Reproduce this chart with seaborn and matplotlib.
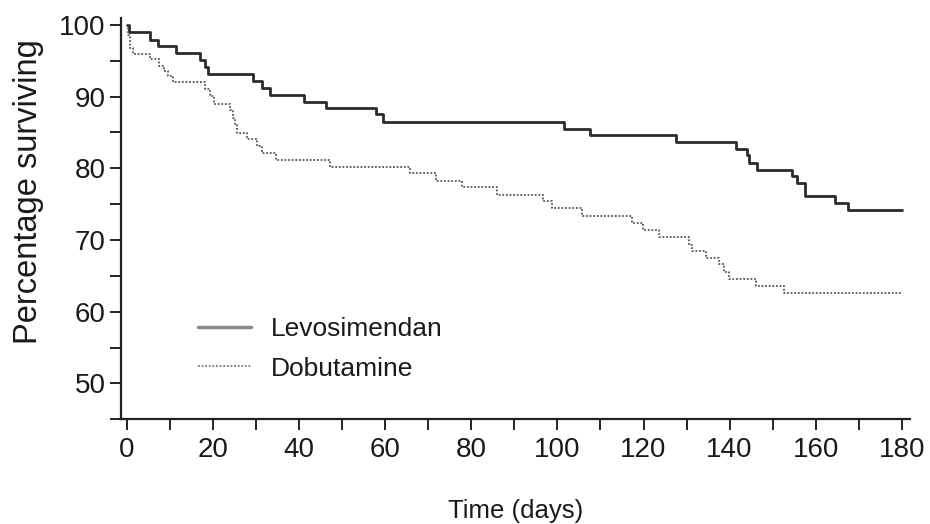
import numpy as np
import pandas as pd
import matplotlib
matplotlib.use("Agg")
import matplotlib.pyplot as plt
import seaborn as sns
from matplotlib.ticker import MultipleLocator

# Kaplan-Meier style step data (value holds from each time until the next one)
levo_time = [0, 0.5, 5.3, 7.3, 11.4, 16.9, 18.1, 18.9, 29.2, 31.4, 33.2,
             41.2, 46.2, 57.9, 59.6, 101.6, 107.6, 127.6, 141.6, 144.0, 144.5,
             146.4, 154.6, 155.6, 157.5, 164.6, 167.6, 180]
levo_surv = [100, 99.0, 97.9, 97.0, 96.1, 95.1, 94.1, 93.2, 92.2, 91.2, 90.3,
             89.3, 88.4, 87.6, 86.5, 85.5, 84.6, 83.7, 82.7, 81.8, 80.8,
             79.8, 78.9, 78.0, 76.1, 75.2, 74.2, 74.2]

dobu_time = [0, 0.3, 0.7, 1.4, 5.3, 7.5, 8.6, 9.6, 10.8, 18.1, 19.3, 20.2,
             23.9, 24.7, 25.1, 25.6, 27.8, 30.1, 31.3, 34.7, 47.1, 65.8, 71.8,
             77.9, 85.9, 96.7, 98.7, 105.7, 117.4, 119.8, 123.6, 130.6, 131.2,
             134.5, 137.6, 138.7, 139.9, 146.1, 152.6, 180]
dobu_surv = [100, 98.6, 96.8, 95.9, 95.2, 94.3, 93.6, 92.9, 92.1, 91.1, 90.1,
             89.0, 88.1, 87.0, 86.0, 84.9, 84.1, 83.1, 82.1, 81.1, 80.2, 79.3,
             78.2, 77.4, 76.3, 75.4, 74.5, 73.3, 72.4, 71.4, 70.4, 69.3, 68.4,
             67.5, 66.6, 65.6, 64.5, 63.6, 62.6, 62.6]

x_ticks = [0, 20, 40, 60, 80, 100, 120, 140, 160, 180]
y_ticks = [50, 60, 70, 80, 90, 100]

sns.set_theme(style="ticks")
plt.rcParams["font.family"] = ["Liberation Sans", "DejaVu Sans"]

fig = plt.figure(figsize=(9.3, 5.24), dpi=100)
ax = fig.add_axes([0.130, 0.200, 0.848, 0.766])

levo = pd.DataFrame({"t": levo_time, "s": levo_surv})
dobu = pd.DataFrame({"t": dobu_time, "s": dobu_surv})

sns.lineplot(data=levo, x="t", y="s", ax=ax, estimator=None, sort=False,
             drawstyle="steps-post", color="#2b2b2b", linewidth=2.0,
             label="Levosimendan")
sns.lineplot(data=dobu, x="t", y="s", ax=ax, estimator=None, sort=False,
             drawstyle="steps-post", color="#555555", linewidth=1.3,
             linestyle=(0, (1, 1)), label="Dobutamine")

ax.set_xlim(-1.4, 181.8)
ax.set_ylim(45, 101)
ax.set_xticks(x_ticks)
ax.set_yticks(y_ticks)
ax.xaxis.set_minor_locator(MultipleLocator(10))
ax.yaxis.set_minor_locator(MultipleLocator(5))
ax.tick_params(which="both", direction="out", length=8, width=1.4,
               color="#222222", labelsize=20, labelcolor="#1a1a1a", pad=3)
ax.tick_params(axis="x", pad=5)

for side in ["top", "right"]:
    ax.spines[side].set_visible(False)
for side in ["left", "bottom"]:
    ax.spines[side].set_linewidth(1.6)
    ax.spines[side].set_color("#222222")

ax.set_xlabel("Time (days)", fontsize=18.5, color="#1a1a1a", labelpad=26)
ax.set_ylabel("Percentage surviving", fontsize=23.5, color="#1a1a1a")
ax.yaxis.set_label_coords(-0.097, 0.566)

leg = ax.legend(loc="upper left", bbox_to_anchor=(0.098, 0.255), frameon=False,
                fontsize=19, handlelength=2.0, handletextpad=0.75,
                labelspacing=0.6, borderpad=0, borderaxespad=0)
leg.get_lines()[0].set_color("#8a8a8a")
leg.get_lines()[0].set_linewidth(2.5)
leg.get_lines()[1].set_color("#777777")
for txt in leg.get_texts():
    txt.set_color("#1a1a1a")

fig.savefig("out.png", dpi=100)
